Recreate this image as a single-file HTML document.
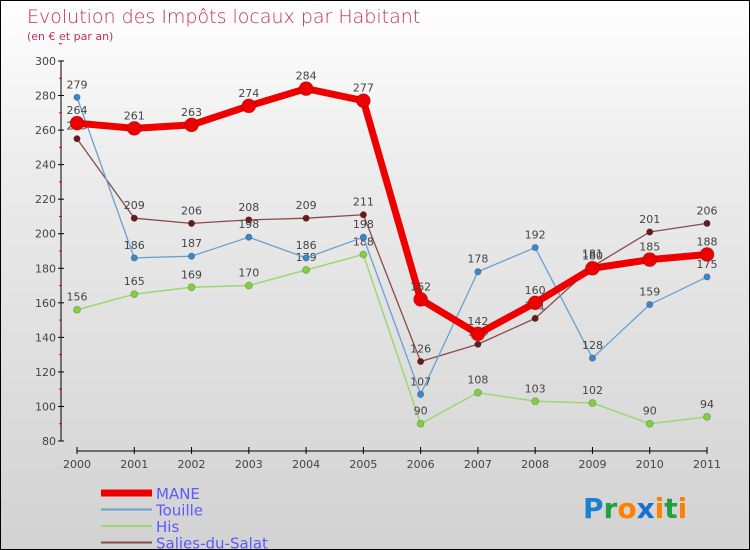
<!DOCTYPE html>
<html><head><meta charset="utf-8"><style>
body{margin:0}
#c{width:750px;height:550px;position:relative;overflow:hidden;box-sizing:border-box;border:1px solid #000;background:linear-gradient(#fff,#ececec 30%,#d2d2d2);font-family:"DejaVu Sans","Liberation Sans",sans-serif}
</style></head><body>
<div id="c">
<svg id="s" width="750" height="550" style="position:absolute;left:0;top:0">
<text x="26" y="22" font-size="19" fill="#c0305a" font-weight="200">Evolution des Impôts locaux par Habitant</text>
<text x="26" y="39" font-size="11" fill="#c0305a">(en € et par an)</text>
</svg>
</div>
<script>
const years=[2000,2001,2002,2003,2004,2005,2006,2007,2008,2009,2010,2011];
const yTicks=[80,100,120,140,160,180,200,220,240,260,280,300];
const mane=[264,261,263,274,284,277,162,142,160,180,185,188];
const touille=[279,186,187,198,186,198,107,178,192,128,159,175];
const his=[156,165,169,170,179,188,90,108,103,102,90,94];
const salies=[255,209,206,208,209,211,126,136,151,181,201,206];
const series=[
 {name:'Salies-du-Salat',v:salies,c:'#6b1a1a',lc:'#8a4a4a',w:1.3,r:3.2},
 {name:'His',v:his,c:'#80d040',lc:'#9ad870',w:1.5,r:3.5},
 {name:'Touille',v:touille,c:'#3a88c8',lc:'#6aa0d0',w:1.3,r:3.2},
 {name:'MANE',v:mane,c:'#ee0000',lc:'#ee0000',w:7,r:7}
];
const s=document.getElementById('s');const NS='http://www.w3.org/2000/svg';
const X=i=>76+i*(630/11);const Y=v=>440-(v-80)*(380/220);
function el(t,a,p){const e=document.createElementNS(NS,t);for(const k in a)e.setAttribute(k,a[k]);(p||s).appendChild(e);return e;}
let ax=el('line',{x1:60,y1:Y(300),x2:60,y2:440,stroke:'#000','stroke-width':1});


yTicks.forEach(t=>{
 el('line',{x1:57,y1:Y(t),x2:63,y2:Y(t),stroke:'#000'});
 el('line',{x1:58,y1:Y(t+10),x2:61,y2:Y(t+10),stroke:'#e00'});
 const tx=el('text',{x:55,y:Y(t)+4,'font-size':11,'text-anchor':'end',fill:'#444'});tx.textContent=t;
 
 
});
let xa=el('line',{x1:X(0),y1:450,x2:X(11),y2:450,stroke:'#000'});


years.forEach((y,i)=>{
 el('line',{x1:X(i),y1:446,x2:X(i),y2:453,stroke:'#000'});
 const tx=el('text',{x:X(i),y:467,'font-size':11,'text-anchor':'middle',fill:'#444'});tx.textContent=y;
 
 
});
series.forEach(se=>{
 const g=el('g',{});
 
 
 el('polyline',{points:se.v.map((v,i)=>X(i)+','+Y(v)).join(' '),fill:'none',stroke:se.lc,'stroke-width':se.w,'stroke-linejoin':'round'},g);
 se.v.forEach((v,i)=>{
  const c=el('circle',{cx:X(i),cy:Y(v),r:se.r,fill:se.c,stroke:'rgba(0,0,0,0.2)'},g);
  
  
  const t=el('text',{x:X(i),y:Y(v)-9,'font-size':11,'text-anchor':'middle',fill:'#444'},g);t.textContent=v;
 });
});
const leg=[['MANE','#ee0000',7],['Touille','#6aa0d0',2],['His','#9ad870',2],['Salies-du-Salat','#8a4a4a',2]];
leg.forEach((l,i)=>{
 const y=492+i*16.5;
 const g=el('g',{});
 
 
 el('line',{x1:100,y1:y,x2:151,y2:y,stroke:l[1],'stroke-width':l[2]},g);
 const t=el('text',{x:155,y:y+6,'font-size':15,fill:'#5a5aff'},g);t.textContent=l[0];
});
const lg=el('text',{x:582,y:517,'font-size':28,'font-weight':'bold'});


[['P','#1a80d0'],['r','#20a040'],['o','#ff8000'],['x','#1a70d0'],['i','#ff8000'],['t','#20a040'],['i','#ff8000']].forEach(p=>{const ts=el('tspan',{fill:p[1]},lg);ts.textContent=p[0];});
</script>
</body></html>
